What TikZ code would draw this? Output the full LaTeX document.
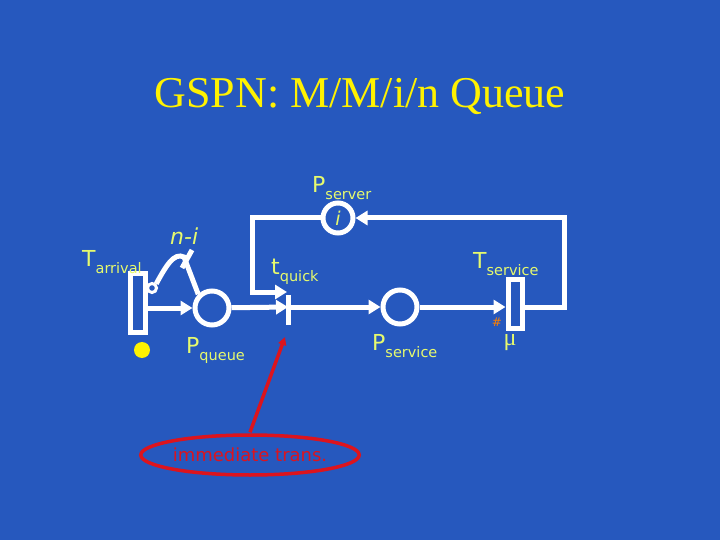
\documentclass[tikz,border=0pt]{standalone}
\usepackage{fontspec}
\setsansfont{DejaVu Sans}
\newfontfamily\titlefont{Liberation Serif}
\usetikzlibrary{arrows.meta,shapes.geometric}
\definecolor{bg}{RGB}{38,88,190}
\definecolor{lab}{RGB}{230,250,110}
\definecolor{redc}{RGB}{220,20,30}
\begin{document}
\begin{tikzpicture}[x=1pt,y=-1pt,
  arc/.style={draw=white,line width=5pt,-{Triangle[length=12pt,width=14pt]}},
  pl/.style={circle,draw=white,line width=5pt,minimum size=34pt,inner sep=0pt},
  lbl/.style={text=lab,font=\sffamily\fontsize{22}{22}\selectfont,inner sep=0pt,anchor=west}]
\newcommand\sbs[1]{\raisebox{-7pt}{\sffamily\fontsize{14.5}{14.5}\selectfont #1}}
\fill[bg] (0,0) rectangle (720,540);
\node[text=yellow,font=\titlefont\fontsize{44}{44}\selectfont] (title) at (360,97) {GSPN: M/M/i/n Queue};
% transitions
\node[draw=white,line width=5pt,minimum width=15pt,minimum height=59pt,inner sep=0pt] (ta) at (138,303) {};
\node[draw=white,line width=5pt,minimum width=14pt,minimum height=49pt,inner sep=0pt] (ts) at (515,304) {};
\coordinate (tqt) at (288,295); \coordinate (tqb) at (288,325);
\draw[white,line width=5pt] (tqt) -- (tqb);
\coordinate (tq) at (288,307);
% places
\node[pl] (pq) at (212,308) {};
\node[pl] (ps) at (400,307) {};
\node[pl,minimum size=30pt] (psv) at (338,218) {\color{lab}\sffamily\itshape\fontsize{19}{19}\selectfont i};
\node[fill=yellow,circle,minimum size=16pt,inner sep=0pt] (tok) at (142,350) {};
% arcs
\draw[arc] (ta.east |- pq) -- (pq);
\draw[arc] (pq) -- (tq);
\draw[arc] (tq) -- (ps);
\draw[arc] (ps) -- (ts.west |- ps);
\draw[arc] (ts.east |- ps) -- (564,307) -- (564,218) -- (psv);
\coordinate (tqin) at (287,292);
\draw[arc] (psv) -- (252,218) -- (252,292) -- (tqin);
% inhibitor
\node[circle,draw=white,line width=3pt,minimum size=9pt,inner sep=0pt] (inh) at (152,288) {};
\draw[white,line width=5pt] (inh.north east) .. controls (166,266) and (174,252) .. (184,257) -- (pq.north west);
\draw[white,line width=5pt] (192,250) -- (182,268);
% labels
\node[lbl] (lps) at (312,188) {P\sbs{server}};
\node[lbl,font=\sffamily\itshape\fontsize{22}{22}\selectfont] (lni) at (170,236) {n-i};
\node[lbl] (lta) at (82,262) {T\sbs{arrival}};
\node[lbl] (ltq) at (271,272) {t\sbs{quick}};
\node[lbl] (lts) at (473,264) {T\sbs{service}};
\node[lbl] (lpq) at (186,350) {P\sbs{queue}};
\node[lbl] (lpsv) at (372,346) {P\sbs{service}};
\node[text=orange,font=\sffamily\fontsize{12}{12}\selectfont] (hash) at (497,322) {\#};
\node[lbl,anchor=center,font=\titlefont\fontsize{24}{24}\selectfont] (mu) at (510,343) {μ};
% callout
\node[draw=redc,line width=3.5pt,ellipse,minimum width=204pt,minimum height=40pt,inner sep=0pt,text=redc,font=\sffamily\fontsize{18}{18}\selectfont] (call) at (250,455) {immediate trans.};
\coordinate (ctip) at (285,337);
\draw[redc,line width=3.5pt,-{Triangle[length=8pt,width=8pt]}] (call.north) ++(0,-1) -- (ctip);
\end{tikzpicture}
\end{document}
